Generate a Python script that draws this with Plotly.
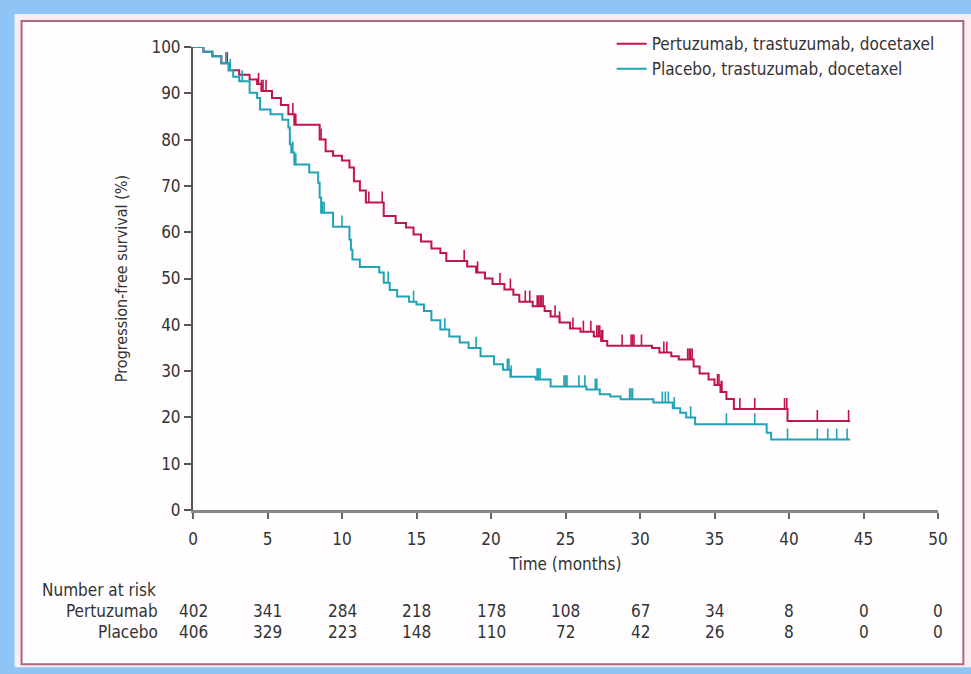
import numpy as np
import plotly.graph_objects as go

# ---- data ----
ptd_times = [0, 0.7, 1.3, 1.9, 2.4, 3.1, 3.8, 4.3, 4.6, 5.3, 5.9, 6.4, 6.8, 8.5, 8.9,
             9.4, 10.0, 10.5, 10.8, 11.2, 11.6, 12.8, 13.6, 14.3, 14.8, 15.3, 16.0, 16.6,
             17.0, 18.4, 19.0, 19.6, 20.1, 20.9, 21.5, 21.9, 22.8, 23.6, 24.0, 24.6, 25.3,
             26.0, 26.9, 27.4, 27.8, 30.8, 31.3, 32.1, 32.6, 33.6, 34.0, 34.6, 35.0, 35.4,
             35.8, 36.3, 39.9]
ptd_surv = [100, 99, 98, 96.5, 95, 94, 93, 92, 90.5, 89, 87.5, 85.5, 83.2, 80, 77.5,
            76.5, 75.5, 74, 71, 69, 66.4, 63.5, 62, 61, 59.5, 58, 56.5, 55.5,
            53.8, 52.6, 51.3, 50, 48.8, 47.6, 46.5, 45, 44, 43, 41.8, 40.5, 39.2,
            38.5, 37.5, 36.5, 35.5, 35, 34, 33.2, 32.5, 31, 29.5, 28.2, 27, 25.5,
            24, 21.8, 19.2]
ptd_end = 44.1
ptd_censor = [0.4, 2.3, 4.4, 4.6, 4.7, 4.9, 6.7, 6.9, 8.6, 11.8, 12.7, 18.2, 19.1, 20.6,
              21.3, 22.3, 22.6, 23.1, 23.2, 23.3, 23.4, 23.5, 24.3, 24.6, 25.5, 26.2, 26.7,
              27.1, 27.2, 27.3, 27.4, 27.5, 28.8, 29.4, 29.5, 29.6, 30.1, 31.6, 31.8, 33.2,
              33.3, 33.4, 33.5, 35.2, 35.3, 35.45, 35.5, 36.7, 37.7, 39.7, 39.85, 41.9, 44.0]

pla_times = [0, 0.7, 1.3, 1.9, 2.4, 2.7, 3.1, 3.8, 4.3, 4.5, 5.2, 6.0, 6.4, 6.5, 6.6,
             6.8, 7.8, 8.4, 8.5, 8.6, 9.4, 10.5, 10.6, 10.7, 11.2, 12.5, 12.8, 13.2, 13.7,
             14.5, 15.0, 15.5, 16.0, 16.6, 17.2, 17.9, 18.5, 19.3, 20.2, 20.8, 21.3, 23.0,
             24.0, 26.4, 27.3, 28.0, 28.7, 30.9, 32.2, 32.7, 33.1, 33.7, 38.5, 38.8]
pla_surv = [100, 99, 98, 96.5, 95, 93.6, 92.6, 90.1, 89, 86.5, 85.5, 84.3, 82.6, 79, 77.2,
            74.6, 72.9, 70.7, 67.5, 64.2, 61.2, 58.4, 56.2, 54.1, 52.5, 51.3, 49.1, 47.5, 46.1,
            45, 44.4, 43, 41, 39, 37.5, 36.2, 35, 33.2, 31.5, 30.3, 28.8, 28.2,
            26.7, 26, 25, 24.5, 23.9, 23.2, 22, 21, 20, 18.5, 16.7, 15.2]
pla_end = 44.1
pla_censor = [2.2, 2.5, 3.3, 6.7, 6.9, 8.7, 8.8, 10.0, 13.1, 14.8, 16.9, 19.0, 21.1, 21.2,
              21.35, 23.1, 23.2, 23.3, 24.9, 25.0, 25.1, 25.9, 26.3, 27.0, 27.1, 29.3, 29.4,
              29.5, 31.5, 31.7, 31.9, 32.3, 33.4, 35.8, 37.7, 39.9, 41.9, 42.6, 43.2, 43.9]

risk_times = [0, 5, 10, 15, 20, 25, 30, 35, 40, 45, 50]
risk_ptd = [402, 341, 284, 218, 178, 108, 67, 34, 8, 0, 0]
risk_pla = [406, 329, 223, 148, 110, 72, 42, 26, 8, 0, 0]

names = ["Pertuzumab, trastuzumab, docetaxel", "Placebo, trastuzumab, docetaxel"]
row_labels = ["Pertuzumab", "Placebo"]
x_ticks = list(range(0, 51, 5))
y_ticks = list(range(0, 101, 10))

RED = "#c2144c"
BLUE = "#1fa4b6"
FONT = "Liberation Sans Narrow, DejaVu Sans Condensed, Roboto, sans-serif"
TXT = "#333333"
FS = 17


def step_at(times, surv, t):
    idx = np.searchsorted(np.asarray(times), np.asarray(t), side="right") - 1
    return np.asarray(surv)[idx]


fig = go.Figure()
for times, surv, end, cens, name, col in [
    (ptd_times, ptd_surv, ptd_end, ptd_censor, names[0], RED),
    (pla_times, pla_surv, pla_end, pla_censor, names[1], BLUE),
]:
    fig.add_trace(go.Scatter(
        x=list(times) + [end], y=list(surv) + [surv[-1]], mode="lines",
        line=dict(color=col, width=2, shape="hv"), name=name, cliponaxis=False))
    fig.add_trace(go.Scatter(
        x=cens, y=step_at(times, surv, cens), mode="markers",
        marker=dict(size=1, color=col),
        error_y=dict(type="data", symmetric=False, array=[2.4] * len(cens),
                     arrayminus=[0] * len(cens), width=0, thickness=1.6, color=col),
        showlegend=False, cliponaxis=False, hoverinfo="skip"))

# light outer band, then white panel with border
fig.add_shape(type="rect", xref="paper", yref="paper",
              x0=-0.2395, x1=1.0447, y0=-0.3398, y1=1.0712,
              fillcolor="#f7eef3", line=dict(width=0), layer="below")
fig.add_shape(type="rect", xref="paper", yref="paper",
              x0=-0.2301, x1=1.034, y0=-0.3333, y1=1.0561,
              fillcolor="#fffdfe", line=dict(color="#b06482", width=2), layer="below")

# number at risk
fig.add_annotation(xref="paper", yref="paper", x=-0.206, y=-0.1737, text="Number at risk",
                   showarrow=False, xanchor="left", yanchor="middle",
                   font=dict(family=FONT, size=FS, color=TXT))
for lab, vals, yy in [(row_labels[0], risk_ptd, -0.219), (row_labels[1], risk_pla, -0.264)]:
    fig.add_annotation(xref="paper", yref="paper", x=-0.0447, y=yy, text=lab,
                       showarrow=False, xanchor="right", yanchor="middle",
                       font=dict(family=FONT, size=FS, color=TXT))
    for t, v in zip(risk_times, vals):
        fig.add_annotation(xref="x", yref="paper", x=t, y=yy, text=str(v),
                           showarrow=False, xanchor="center", yanchor="middle",
                           font=dict(family=FONT, size=FS, color=TXT))

fig.update_layout(
    width=971, height=674,
    margin=dict(l=193, r=33, t=47, b=164),
    paper_bgcolor="#8ec5f4",
    plot_bgcolor="rgba(0,0,0,0)",
    font=dict(family=FONT, size=FS, color=TXT),
    showlegend=True,
    legend=dict(x=0.562, y=1.045, xanchor="left", yanchor="top",
                bgcolor="rgba(0,0,0,0)", font=dict(family=FONT, size=FS, color=TXT),
                tracegroupgap=0, itemwidth=30),
    xaxis=dict(range=[0, 50], tickvals=x_ticks, showgrid=False, zeroline=False,
               showline=True, linecolor="#888888", linewidth=3,
               ticks="outside", ticklen=6, tickcolor="#666666", tickwidth=1.5,
               ticklabelstandoff=6,
               title=dict(text="Time (months)", standoff=10,
                          font=dict(family=FONT, size=FS, color=TXT)),
               tickfont=dict(family=FONT, size=FS, color=TXT)),
    yaxis=dict(range=[0, 100], tickvals=y_ticks, showgrid=False, zeroline=False,
               showline=True, linecolor="#555555", linewidth=2,
               ticks="outside", ticklen=7, tickcolor="#555555", tickwidth=1.5,
               title=dict(text="Progression-free survival (%)", standoff=20,
                          font=dict(family=FONT, size=FS - 1, color=TXT)),
               tickfont=dict(family=FONT, size=FS, color=TXT)),
)

fig.write_html("out.html")
